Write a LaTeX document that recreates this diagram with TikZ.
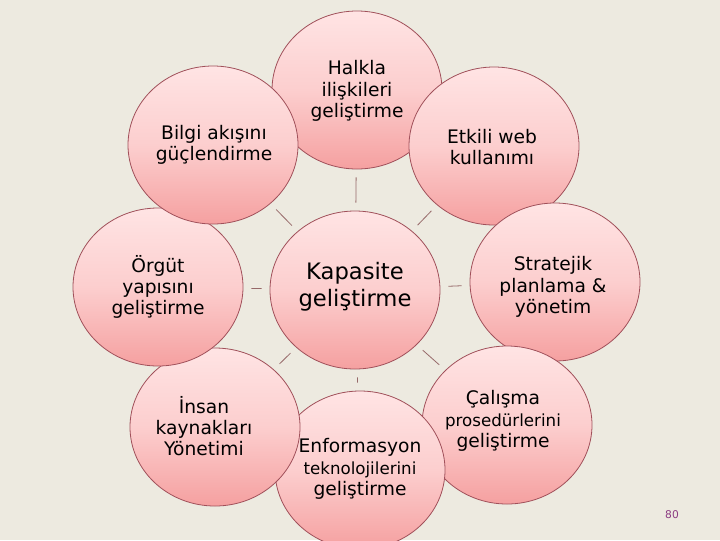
\documentclass[tikz,border=0pt]{standalone}
\usepackage{fontspec}
\setmainfont{DejaVu Sans}
\usetikzlibrary{shapes.geometric}
\definecolor{bgc}{RGB}{237,234,224}
\definecolor{rim}{RGB}{160,80,90}
\definecolor{pinktop}{RGB}{255,228,228}
\definecolor{pinkmid}{RGB}{252,206,206}
\definecolor{pinkbot}{RGB}{245,160,160}
\definecolor{spokec}{RGB}{150,105,105}
\definecolor{pnumc}{RGB}{140,60,130}
\begin{document}
\begin{tikzpicture}[x=0.75pt,y=-0.75pt,
  bubble/.style={ellipse, draw=rim, line width=0.6pt, top color=pinktop, bottom color=pinkbot, middle color=pinkmid, minimum width=127.5pt, minimum height=118.5pt, inner sep=0pt},
  txt/.style={align=center, font=\fontsize{14}{16}\selectfont, inner sep=0pt},
  bigtxt/.style={align=center, font=\fontsize{17}{20}\selectfont, inner sep=0pt},
  spokeline/.style={draw=spokec, line width=0.6pt, shorten >=6pt, shorten <=6pt}]
\useasboundingbox (0,0) rectangle (720,540);
\clip (0,0) rectangle (720,540);
\fill[bgc] (0,0) rectangle (720,540);
% bubbles in stacking order
\node[bubble] (halkla) at (357,90) {};
\node[bubble] (etkili) at (494,146) {};
\node[bubble] (strat) at (555,282) {};
\node[bubble] (calisma) at (507,425) {};
\node[bubble] (enf) at (360,470) {};
\node[bubble] (insan) at (215,427) {};
\node[bubble] (orgut) at (158,287) {};
\node[bubble] (bilgi) at (213,145) {};
\node[bubble] (kap) at (355,290) {};
% spokes
\foreach \o in {halkla,etkili,strat,calisma,enf,insan,orgut,bilgi}
  \draw[spokeline] (kap) -- (\o);
% texts
\node[txt] (halkla-t) at (357,91) {Halkla\\ilişkileri\\geliştirme};
\node[txt] (etkili-t) at (492,147) {Etkili web\\kullanımı};
\node[txt] (strat-t) at (553,287) {Stratejik\\planlama \&\\yönetim};
\node[txt] (calisma-t) at (503,421) {Çalışma\\{\fontsize{12.5}{16}\selectfont prosedürlerini}\\geliştirme};
\node[txt] (enf-t) at (360,469) {Enformasyon\\{\fontsize{12.5}{16}\selectfont teknolojilerini}\\geliştirme};
\node[txt] (insan-t) at (204,426) {İnsan\\kaynakları\\Yönetimi};
\node[txt] (orgut-t) at (158,287) {Örgüt\\yapısını\\geliştirme};
\node[txt] (bilgi-t) at (214,145) {Bilgi akışını\\güçlendirme};
\node[bigtxt] (kap-t) at (355,287) {Kapasite\\geliştirme};
\node[text=pnumc, font=\fontsize{8}{9}\selectfont, inner sep=0pt] (pnum) at (672,515) {80};
\end{tikzpicture}
\end{document}
